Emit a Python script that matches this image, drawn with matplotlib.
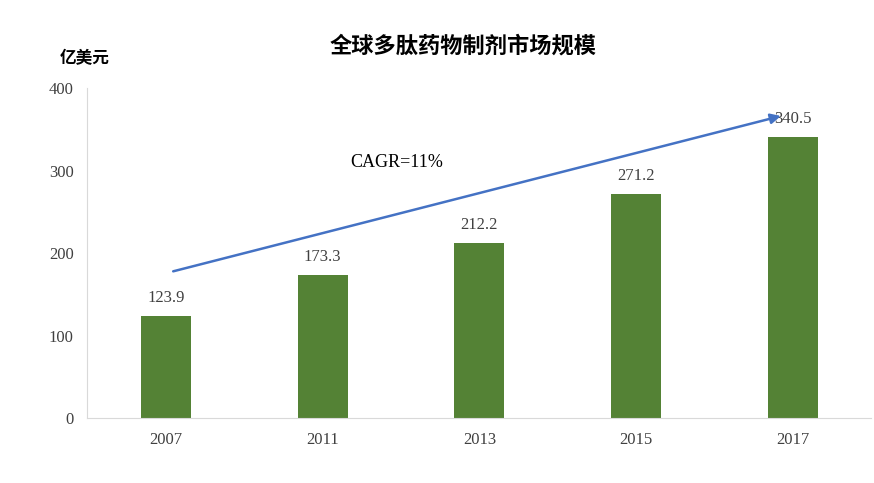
import matplotlib
matplotlib.use("Agg")
import matplotlib.pyplot as plt

years = ["2007", "2011", "2013", "2015", "2017"]
values = [123.9, 173.3, 212.2, 271.2, 340.5]
yticks = [0, 100, 200, 300, 400]

plt.rcParams['font.family'] = ['Liberation Serif', 'Noto Sans CJK SC', 'DejaVu Sans']
fig = plt.figure(figsize=(8.74, 4.83), dpi=100)
ax = fig.add_axes([0.1, 0.1346, 0.897, 0.683])
x = range(len(years))
ax.bar(x, values, width=0.32, color='#548235')
for i, v in zip(x, values):
    ax.text(i, v + 12, f"{v}", ha='center', va='bottom', fontsize=12, color='#404040')
ax.set_xlim(-0.5, len(years) - 0.5)
ax.set_ylim(0, 400)
ax.set_yticks(yticks)
ax.set_xticks(list(x))
ax.set_xticklabels(years)
ax.tick_params(length=0, labelsize=12, colors='#404040', pad=10)
for s in ['top', 'right']:
    ax.spines[s].set_visible(False)
ax.spines['left'].set_color('#d9d9d9')
ax.spines['bottom'].set_color('#d9d9d9')
ax.annotate('', xy=(3.94, 367), xytext=(0.03, 177),
            arrowprops=dict(arrowstyle='-|>', color='#4472c4', lw=1.8, mutation_scale=15))
ax.text(1.47, 310, 'CAGR=11%', fontsize=13, ha='center', va='center')
fig.text(0.53, 0.905, '全球多肽药物制剂市场规模', ha='center', va='center', fontsize=16,
         fontweight='bold', family=['Noto Sans CJK SC'])
fig.text(0.097, 0.88, '亿美元', ha='center', va='center', fontsize=12,
         fontweight='bold', family=['Noto Sans CJK SC'])
fig.savefig('out.png', dpi=100)
